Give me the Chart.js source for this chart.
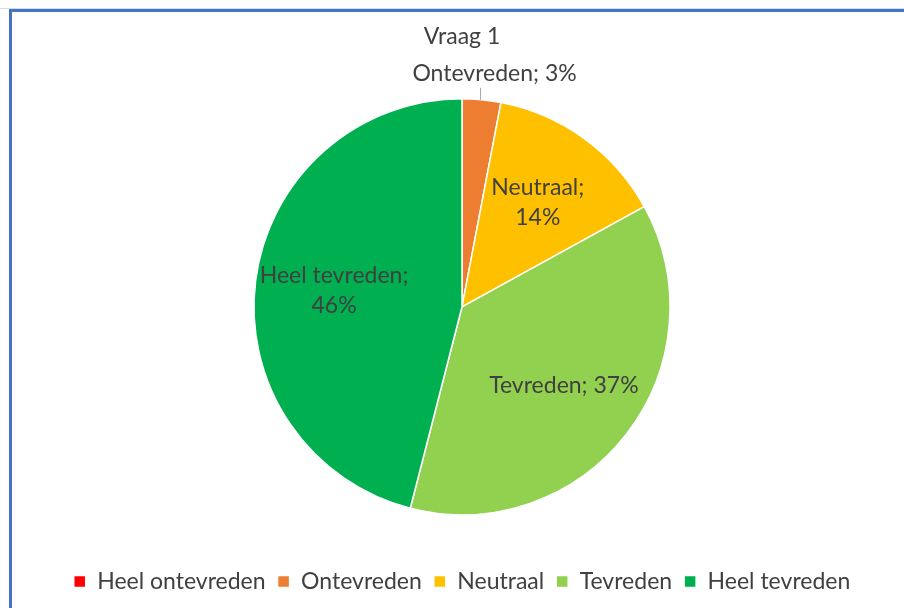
<!DOCTYPE html>
<html>
<head>
<meta charset="utf-8">
<script src="https://cdn.jsdelivr.net/npm/chart.js@4.4.0/dist/chart.umd.min.js"></script>
<style>
    body { margin: 0; background: #fff; }
    #wrap { position: relative; width: 904px; height: 608px; overflow: hidden; }
    #grid { position: absolute; left: 0; top: 8px; width: 904px; height: 1px; background: #d9dde3; }
    #frame { position: absolute; left: 9px; top: 9px; width: 920px; height: 620px;
             border-top: 3px solid #4472C4; border-left: 3px solid #4472C4; }
    canvas { position: absolute; left: 0; top: 0; }
</style>
</head>
<body>
<div id="wrap">
    <canvas id="pieChartCanvas" width="904" height="608"></canvas>
    <div id="grid"></div>
    <div id="frame"></div>
</div>
<script>
// Vraag 1
let categories = ['Heel ontevreden', 'Ontevreden', 'Neutraal', 'Tevreden', 'Heel tevreden'];
let values = [0, 3, 14, 37, 46];
let colors = ['#FF0000', '#ED7D31', '#FFC000', '#92D050', '#00B050'];
let wrapped = ['Neutraal', 'Heel tevreden'];

let textColor = '#404040';
let fontFamily = 'Lato, "Open Sans", sans-serif';

// labels op de taartpunten
let sliceLabels = {
    id: 'sliceLabels',
    afterDatasetsDraw: function (chart) {
        let ctx = chart.ctx;
        let meta = chart.getDatasetMeta(0);
        ctx.save();
        ctx.font = '23px ' + fontFamily;
        ctx.fillStyle = textColor;
        ctx.textAlign = 'center';
        ctx.textBaseline = 'middle';

        meta.data.forEach(function (arc, i) {
            let v = values[i];
            if (!v) return;
            let p = arc.getProps(['x', 'y', 'startAngle', 'endAngle', 'outerRadius'], true);
            let mid = (p.startAngle + p.endAngle) / 2;
            let cos = Math.cos(mid), sin = Math.sin(mid);
            let name = categories[i];

            if (v < 5) {
                // buiten de taart met lijntje
                let ex = p.x + cos * p.outerRadius;
                let ey = p.y + sin * p.outerRadius;
                ctx.strokeStyle = '#a6a6a6';
                ctx.lineWidth = 1;
                ctx.beginPath();
                ctx.moveTo(ex - 1, ey);
                ctx.lineTo(ex - 1, ey - 12);
                ctx.stroke();
                ctx.fillText(name + '; ' + v + '%', ex + 13, ey - 26);
                return;
            }

            let f = 0.62;
            let lx = p.x + cos * p.outerRadius * f;
            let ly = p.y + sin * p.outerRadius * f;
            if (wrapped.indexOf(name) >= 0) {
                ctx.fillText(name + ';', lx, ly - 15);
                ctx.fillText(v + '%', lx, ly + 15);
            } else {
                ctx.fillText(name + '; ' + v + '%', lx, ly);
            }
        });
        ctx.restore();
    }
};

let pieChartDraw = function () {
    let ctx = document.getElementById('pieChartCanvas').getContext('2d');

    window.pieChart = new Chart(ctx, {
        type: 'pie',
        data: {
            labels: categories,
            datasets: [{
                data: values,
                backgroundColor: colors,
                borderColor: '#ffffff',
                borderWidth: 1.5,
                radius: 208
            }]
        },
        options: {
            responsive: false,
            animation: false,
            layout: {
                padding: { left: 20, right: 0, top: 0, bottom: 5 }
            },
            plugins: {
                title: {
                    display: true,
                    text: 'Vraag 1',
                    color: textColor,
                    font: { family: fontFamily, size: 23, weight: 'normal' },
                    padding: { top: 23, bottom: 5 }
                },
                legend: {
                    position: 'bottom',
                    labels: {
                        color: textColor,
                        font: { family: fontFamily, size: 23 },
                        boxWidth: 12,
                        boxHeight: 12,
                        padding: 12
                    }
                },
                tooltip: { enabled: false }
            }
        },
        plugins: [sliceLabels]
    });
};

window.onload = function () {
    pieChartDraw();
};
</script>
</body>
</html>
